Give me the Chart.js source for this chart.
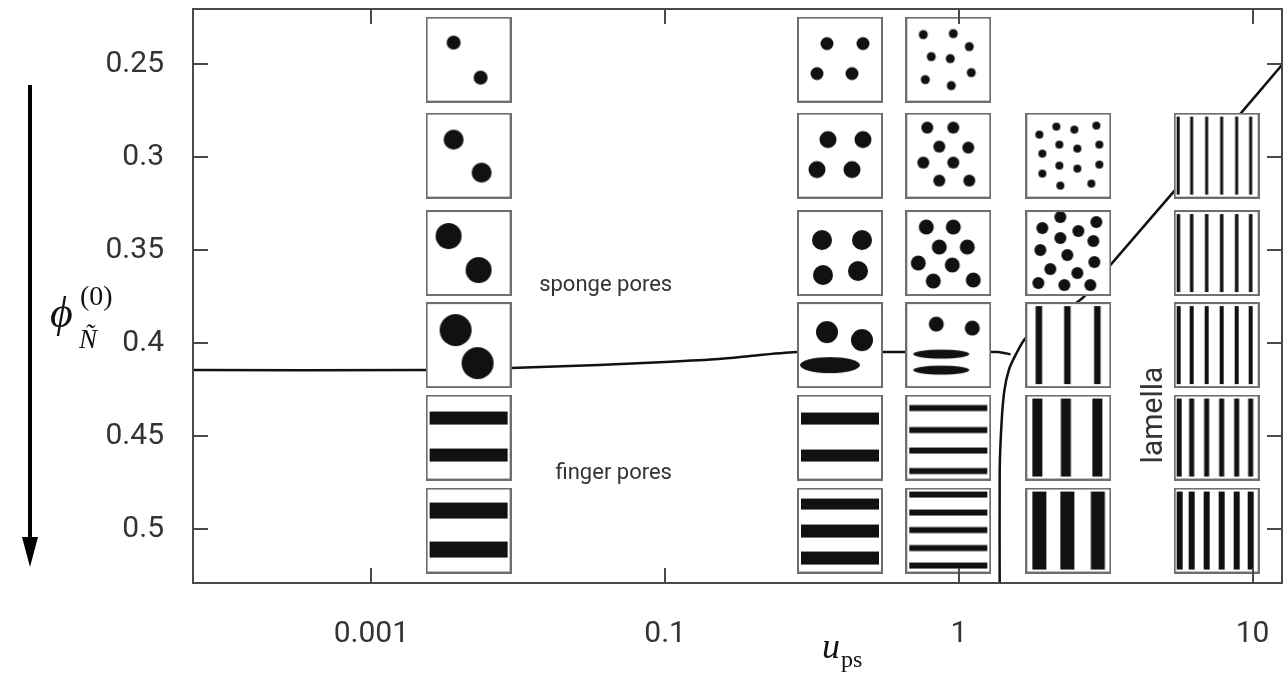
<!DOCTYPE html>
<html>
<head>
<meta charset="utf-8">
<script src="https://cdn.jsdelivr.net/npm/chart.js@4/dist/chart.umd.min.js"></script>
<style>
  html, body { margin: 0; padding: 0; background: #fff; }
</style>
</head>
<body>
<canvas id="chart" width="1287" height="678"></canvas>
<script>
// axis ticks (the u_ps labels are evenly spaced in the figure)
const xTickValues = [0.001, 0.1, 1, 10];
const xTickLabels = ['0.001', '0.1', '1', '10'];
const yTickValues = [0.25, 0.3, 0.35, 0.4, 0.45, 0.5];
const yTickLabels = ['0.25', '0.3', '0.35', '0.4', '0.45', '0.5'];
const xRange = [6.1e-5, 12.6];
const yRange = [0.2204, 0.529];

// sponge / finger boundary
const spongeU = [5e-5, 0.00237, 0.0089, 0.0353, 0.1, 0.152, 0.207, 0.282, 0.62, 1.36, 1.5];
const spongePhi = [0.4145, 0.4145, 0.4134, 0.4118, 0.4102, 0.4086, 0.4065, 0.4048, 0.4048, 0.4048, 0.406];

// finger / lamella boundary
const lamellaU = [1.378, 1.378, 1.40, 1.43, 1.48, 1.56, 1.69, 2.64, 3.28, 5.41, 9.07, 13.1];
const lamellaPhi = [0.535, 0.4683, 0.4414, 0.4253, 0.4145, 0.4065, 0.3973, 0.3758, 0.3581, 0.3183, 0.2769, 0.2473];

// morphology snapshots: column position, row position, and what each cell shows
const columnU = [0.00459, 0.394, 0.921, 2.36, 7.55];
const rowPhi = [0.2476, 0.2992, 0.3516, 0.4011, 0.4508, 0.5008];
const columnCells = [
    ['pair1', 'pair2', 'pair3', 'pair4', 'hbar2a', 'hbar2b'],
    ['quad1', 'quad2', 'quad3', 'mixA', 'hbar2c', 'hbar3'],
    ['many1', 'many2', 'many3', 'mixB', 'hbar4', 'hbar5'],
    [null, 'dense1', 'dense2', 'vbar3a', 'vbar3b', 'vbar3c'],
    [null, 'vthin1', 'vthin2', 'vthin3', 'vthin4', 'vthin5']
];

// region labels
const regionLabels = ['sponge pores', 'finger pores', 'lamella'];
const regionU = [0.0394, 0.0447, 4.62];
const regionPhi = [0.3688, 0.4699, 0.4387];

// piecewise log axis: 0.001 -> 0, 0.1 -> 1, 1 -> 2, 10 -> 3
function toPos(u) {
    return u <= 0.1 ? (Math.log10(u) + 3) / 2 : Math.log10(u) + 2;
}

// Glyph shapes, in a 86px box
const ICON = 86;
const thinX = [2.5, 18, 33, 48, 63, 77];
const glyphs = {
    pair1: { r: 7, dots: [[28, 26], [55, 61]] },
    pair2: { r: 10, dots: [[28, 27], [56, 60]] },
    pair3: { r: 13, dots: [[23, 26], [53, 60]] },
    pair4: { r: 16, dots: [[30, 28], [52, 61]] },
    hbar2a: { hbars: [[23.5, 13], [60.5, 13]] },
    hbar2b: { hbars: [[23, 16], [62, 16]] },
    quad1: { r: 6.5, dots: [[30, 27], [66, 27], [20, 57], [55, 57]] },
    quad2: { r: 8.5, dots: [[31, 27], [66, 27], [20, 57], [55, 57]] },
    quad3: { r: 10, dots: [[25, 30], [65, 30], [26, 65], [61, 61]] },
    mixA: { r: 11, dots: [[30, 30], [65, 38]], ovals: [[33, 63, 30, 8]] },
    hbar2c: { hbars: [[24, 12], [61, 12]] },
    hbar3: { hbars: [[16.5, 11], [43.5, 13], [70.5, 13]] },
    many1: { r: 4.5, dots: [[18, 18], [48, 17], [64, 30], [26, 40], [45, 42], [66, 56], [20, 63], [46, 69]] },
    many2: { r: 6, dots: [[22, 15], [48, 15], [34, 34], [63, 35], [18, 50], [48, 50], [34, 68], [64, 68]] },
    many3: { r: 7.5, dots: [[21, 17], [48, 17], [34, 37], [62, 37], [13, 53], [47, 55], [28, 71], [68, 70]] },
    mixB: { r: 7.5, dots: [[31, 22], [67, 26]], ovals: [[36, 52, 28, 4.5], [36, 68, 28, 4.5]] },
    hbar4: { hbars: [[13.5, 6], [35.5, 6], [56, 6], [76.5, 6]] },
    hbar5: { hbars: [[7, 6], [25, 6], [42.5, 6], [60.5, 6], [78, 6]] },
    dense1: { r: 4, dots: [[14, 22], [31, 14], [49, 17], [71, 13], [34, 32], [52, 36], [74, 32], [17, 41], [34, 53], [52, 56], [74, 52], [17, 61], [35, 73], [66, 71]] },
    dense2: { r: 6, dots: [[35, 7], [17, 18], [53, 21], [71, 12], [35, 28], [68, 31], [15, 40], [42, 45], [69, 52], [25, 59], [52, 63], [13, 73], [39, 75], [65, 75]] },
    vbar3a: { vbars: [[13.5, 6.5], [42, 6.5], [72, 6.5]] },
    vbar3b: { vbars: [[12, 10], [40.5, 10], [72, 10]] },
    vbar3c: { vbars: [[14, 14], [42, 14], [72.5, 14]] },
    vthin1: { vbars: thinX.map(x => [x, 3]) },
    vthin2: { vbars: thinX.map(x => [x, 3.5]) },
    vthin3: { vbars: thinX.map(x => [x, 4]) },
    vthin4: { vbars: thinX.map(x => [x, 5]) },
    vthin5: { vbars: thinX.map(x => [x, 6]) }
};

function makeGlyph(spec) {
    const c = document.createElement('canvas');
    c.width = ICON;
    c.height = ICON;
    const g = c.getContext('2d');
    g.fillStyle = '#fff';
    g.fillRect(0, 0, ICON, ICON);
    g.fillStyle = '#111';
    (spec.dots || []).forEach(d => {
        g.beginPath();
        g.arc(d[0], d[1], spec.r, 0, Math.PI * 2);
        g.fill();
    });
    (spec.ovals || []).forEach(o => {
        g.beginPath();
        g.ellipse(o[0], o[1], o[2], o[3], 0, 0, Math.PI * 2);
        g.fill();
    });
    (spec.hbars || []).forEach(b => g.fillRect(4, b[0] - b[1] / 2, ICON - 8, b[1]));
    (spec.vbars || []).forEach(b => g.fillRect(Math.max(3, b[0] - b[1] / 2), 4, b[1], ICON - 8));
    g.strokeStyle = '#6e6e6e';
    g.lineWidth = 2;
    g.strokeRect(1, 1, ICON - 2, ICON - 2);
    return c;
}

// Build icon points from the column/row tables
const iconPoints = [];
const iconStyles = [];
columnCells.forEach((cells, ci) => {
    cells.forEach((name, ri) => {
        if (!name) return;
        iconPoints.push({ x: toPos(columnU[ci]), y: rowPhi[ri] });
        iconStyles.push(makeGlyph(glyphs[name]));
    });
});

const axisColor = '#4a4a4a';
const textColor = '#333';
const tickFont = { family: 'Roboto', size: 30 };

// no extra room for overhanging labels: the plot box is fixed
function noPadding(s) {
    s.paddingLeft = 0;
    s.paddingRight = 0;
    s.paddingTop = 0;
    s.paddingBottom = 0;
}

// Frame with inward ticks on all four sides
const framePlugin = {
    id: 'frame',
    afterDatasetsDraw(chart) {
        const { ctx, chartArea: a, scales } = chart;
        const len = 15;
        ctx.save();
        ctx.strokeStyle = axisColor;
        ctx.lineWidth = 2;
        ctx.strokeRect(a.left, a.top, a.right - a.left, a.bottom - a.top);
        ctx.beginPath();
        xTickValues.forEach(u => {
            const px = Math.round(scales.x.getPixelForValue(toPos(u)));
            ctx.moveTo(px, a.bottom); ctx.lineTo(px, a.bottom - len);
            ctx.moveTo(px, a.top); ctx.lineTo(px, a.top + len);
        });
        yTickValues.forEach(v => {
            const py = Math.round(scales.y.getPixelForValue(v));
            ctx.moveTo(a.left, py); ctx.lineTo(a.left + len, py);
            ctx.moveTo(a.right, py); ctx.lineTo(a.right - len, py);
        });
        ctx.stroke();
        ctx.restore();
    }
};

// Region labels, axis titles and the arrow
const textPlugin = {
    id: 'notes',
    afterDraw(chart) {
        const { ctx, chartArea: a, scales } = chart;
        ctx.save();
        ctx.fillStyle = textColor;
        ctx.textAlign = 'center';
        ctx.textBaseline = 'middle';
        regionLabels.forEach((t, i) => {
            const px = scales.x.getPixelForValue(toPos(regionU[i]));
            const py = scales.y.getPixelForValue(regionPhi[i]);
            ctx.save();
            ctx.translate(px, py);
            if (t === 'lamella') {
                ctx.rotate(-Math.PI / 2);
                ctx.font = '30px Roboto';
            } else {
                ctx.font = '22px Roboto';
            }
            ctx.fillText(t, 0, 0);
            ctx.restore();
        });

        // x title u_ps
        ctx.fillStyle = '#111';
        ctx.textAlign = 'left';
        ctx.textBaseline = 'alphabetic';
        const ux = a.left + 629;
        ctx.font = 'italic 36px "Liberation Serif"';
        ctx.fillText('u', ux, a.bottom + 75);
        ctx.font = '24px "Liberation Serif"';
        ctx.fillText('ps', ux + 19, a.bottom + 84);

        // y title phi_N^(0)
        const yx = a.left - 143;
        ctx.font = 'italic 44px "Liberation Serif"';
        ctx.fillText('\u03d5', yx, a.top + 318);
        ctx.font = '28px "Liberation Serif"';
        ctx.fillText('(0)', yx + 30, a.top + 296);
        ctx.font = 'italic 27px "Liberation Serif"';
        ctx.fillText('\u00d1', yx + 29, a.top + 339);

        // downward arrow
        const ax = 30;
        ctx.strokeStyle = '#000';
        ctx.fillStyle = '#000';
        ctx.lineWidth = 4;
        ctx.beginPath();
        ctx.moveTo(ax, a.top + 76);
        ctx.lineTo(ax, a.top + 535);
        ctx.stroke();
        ctx.beginPath();
        ctx.moveTo(ax, a.top + 558);
        ctx.lineTo(ax - 8, a.top + 528);
        ctx.lineTo(ax + 8, a.top + 528);
        ctx.closePath();
        ctx.fill();
        ctx.restore();
    }
};

function linePoints(us, phis) {
    return us.map((u, i) => ({ x: toPos(u), y: phis[i] }));
}

new Chart(document.getElementById('chart'), {
    type: 'scatter',
    data: {
        datasets: [
            {
                label: 'snapshots',
                data: iconPoints,
                pointStyle: iconStyles,
                pointRadius: 1,
                order: 1
            },
            {
                type: 'line',
                label: 'sponge/finger',
                data: linePoints(spongeU, spongePhi),
                borderColor: '#111',
                borderWidth: 2.5,
                pointRadius: 0,
                tension: 0.2,
                order: 2
            },
            {
                type: 'line',
                label: 'finger/lamella',
                data: linePoints(lamellaU, lamellaPhi),
                borderColor: '#111',
                borderWidth: 2.5,
                pointRadius: 0,
                tension: 0.2,
                order: 2
            }
        ]
    },
    options: {
        responsive: false,
        animation: false,
        layout: { padding: { top: 9, right: 2, left: 0, bottom: 0 } },
        plugins: { legend: { display: false }, tooltip: { enabled: false } },
        scales: {
            x: {
                type: 'linear',
                min: toPos(xRange[0]),
                max: toPos(xRange[1]),
                afterBuildTicks: s => { s.ticks = xTickValues.map(u => ({ value: toPos(u) })); },
                afterFit: s => { s.height = 95; noPadding(s); },
                ticks: {
                    callback: (v, i) => xTickLabels[i],
                    padding: 33,
                    maxRotation: 0,
                    autoSkip: false,
                    font: tickFont,
                    color: textColor
                },
                grid: { display: false, drawTicks: false },
                border: { display: false }
            },
            y: {
                type: 'linear',
                reverse: true,
                min: yRange[0],
                max: yRange[1],
                afterBuildTicks: s => { s.ticks = yTickValues.map(v => ({ value: v })); },
                afterFit: s => { s.width = 193; noPadding(s); },
                ticks: {
                    callback: (v, i) => yTickLabels[i],
                    padding: 29,
                    autoSkip: false,
                    font: tickFont,
                    color: textColor
                },
                grid: { display: false, drawTicks: false },
                border: { display: false }
            }
        }
    },
    plugins: [framePlugin, textPlugin]
});
</script>
</body>
</html>
